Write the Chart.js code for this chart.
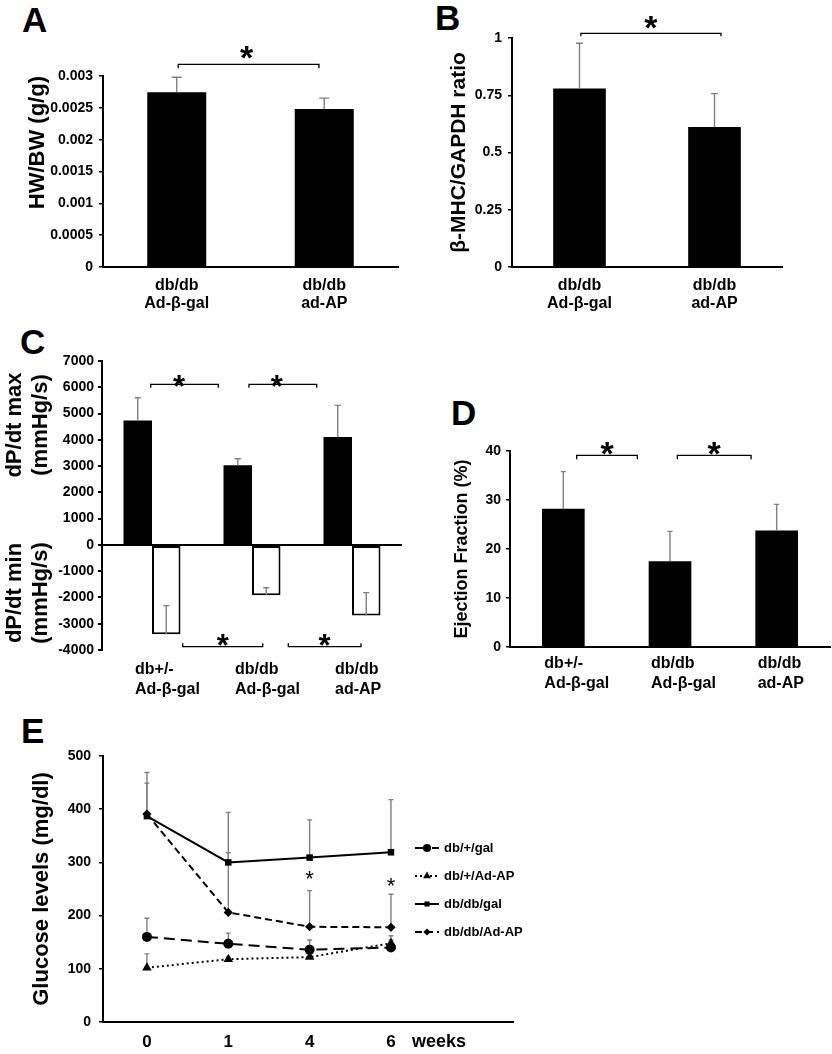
<!DOCTYPE html>
<html>
<head>
<meta charset="utf-8">
<title>Figura</title>
<script src="https://cdn.jsdelivr.net/npm/chart.js"></script>
<style>
  html, body { margin: 0; padding: 0; background: #fff; }
  body { position: relative; width: 832px; height: 1054px; overflow: hidden; font-family: 'Liberation Sans', Arial, sans-serif; }
  canvas { position: absolute; }
  .tag { position: absolute; font-size: 35px; font-weight: bold; line-height: 35px; color: #000; }
</style>
</head>
<body>
<div class="tag" style="left:22px;top:2px">A</div>
<div class="tag" style="left:435px;top:0px">B</div>
<div class="tag" style="left:20px;top:324px">C</div>
<div class="tag" style="left:451px;top:395px">D</div>
<div class="tag" style="left:21px;top:713px">E</div>

<canvas id="grafA" width="415" height="320" style="left:0;top:0"></canvas>
<canvas id="grafB" width="417" height="320" style="left:415px;top:0"></canvas>
<canvas id="grafC" width="420" height="400" style="left:0;top:310px"></canvas>
<canvas id="grafD" width="412" height="400" style="left:420px;top:310px"></canvas>
<canvas id="grafE" width="600" height="344" style="left:0;top:710px"></canvas>

<script>
const fam = "'Liberation Sans', Arial, sans-serif";

// A - HW/BW
const grupos2 = [["db/db", "Ad-β-gal"], ["db/db", "ad-AP"]];
const hwbw = [0.002744, 0.002482];
const hwbwSd = [0.000236, 0.00017];

// B - beta-MHC/GAPDH
const mhc = [0.78, 0.611];
const mhcSd = [0.197, 0.146];

// C - dP/dt max e min
const grupos3 = [["db+/-", "Ad-β-gal"], ["db/db", "Ad-β-gal"], ["db/db", "ad-AP"]];
const dpMax = [4740, 3030, 4110];
const dpMaxSd = [860, 250, 1200];
const dpMin = [-3400, -1920, -2690];
const dpMinSd = [1090, 290, 875];

// D - fracao de ejecao
const ef = [28.2, 17.5, 23.8];
const efSd = [7.6, 6.1, 5.3];

// E - glicose
const semanas = ["0", "1", "4", "6"];
const gluHetGal = [160, 147, 136, 140];
const gluHetGalSd = [35, 20, 18, 22];
const gluHetAP = [102, 118, 122, 148];
const gluHetAPSd = [26, 4, 4, 6];
const gluDbGal = [387, 300, 309, 319];
const gluDbGalSd = [82, 94, 71, 99];
const gluDbAP = [391, 206, 179, 178];
const gluDbAPSd = [58, 112, 68, 62];

Chart.defaults.font.family = fam;
Chart.defaults.font.weight = 'bold';
Chart.defaults.color = '#000';

function desenhaErros(chart, o) {
  const ctx = chart.ctx;
  const ys = chart.scales.y;
  ctx.save();
  ctx.strokeStyle = '#808080';
  ctx.lineWidth = 1.4;
  chart.data.datasets.forEach((ds, i) => {
    if (!ds.sd) return;
    chart.getDatasetMeta(i).data.forEach((el, j) => {
      const d = ds.data[j];
      const v = typeof d === 'object' ? d.y : d;
      const y0 = ys.getPixelForValue(v);
      const y1 = ys.getPixelForValue(v + ds.sd[j]);
      ctx.beginPath();
      ctx.moveTo(el.x, y0);
      ctx.lineTo(el.x, y1);
      ctx.moveTo(el.x - o.cap, y1);
      ctx.lineTo(el.x + o.cap, y1);
      ctx.stroke();
    });
  });
  ctx.restore();
}

const errBars = {
  id: 'errBars',
  beforeDatasetsDraw(chart, args, o) { if (o.behind) desenhaErros(chart, o); },
  afterDatasetsDraw(chart, args, o) { if (!o.behind) desenhaErros(chart, o); }
};

function asterisco(ctx, x, yc, size, weight) {
  ctx.font = weight + ' ' + size + 'px ' + fam;
  ctx.textAlign = 'center';
  ctx.textBaseline = 'alphabetic';
  ctx.fillText('*', x, yc + 0.575 * size);
}

// colchetes de significancia: [x0, x1, y, tick, distancia do *, desvio x do *]
const sigMarks = {
  id: 'sigMarks',
  afterDraw(chart, args, o) {
    const ctx = chart.ctx;
    const xs = chart.scales.x, ys = chart.scales.y;
    ctx.save();
    ctx.strokeStyle = '#000';
    ctx.fillStyle = '#000';
    ctx.lineWidth = 1.3;
    (o.brackets || []).forEach(b => {
      const x0 = xs.getPixelForValue(b[0]);
      const x1 = xs.getPixelForValue(b[1]);
      const y = ys.getPixelForValue(b[2]);
      ctx.beginPath();
      ctx.moveTo(x0, y + b[3]);
      ctx.lineTo(x0, y);
      ctx.lineTo(x1, y);
      ctx.lineTo(x1, y + b[3]);
      ctx.stroke();
      asterisco(ctx, (x0 + x1) / 2 + (b[5] || 0), y - b[4], o.size, 'bold');
    });
    (o.stars || []).forEach(s => {
      asterisco(ctx, xs.getPixelForValue(s[0]), ys.getPixelForValue(s[1]), o.size, o.weight || 'bold');
    });
    ctx.restore();
  }
};

// rotulos das categorias alinhados a esquerda (C e D)
const catText = {
  id: 'catText',
  afterDraw(chart, args, o) {
    if (!o.labels) return;
    const ctx = chart.ctx;
    const xs = chart.scales.x;
    const b = chart.chartArea.bottom;
    ctx.save();
    ctx.font = 'bold 16px ' + fam;
    ctx.fillStyle = '#000';
    ctx.textAlign = 'left';
    ctx.textBaseline = 'alphabetic';
    o.labels.forEach((linhas, i) => {
      linhas.forEach((t, k) => ctx.fillText(t, xs.getPixelForValue(i) + o.dx, b + o.base + k * o.lh));
    });
    ctx.restore();
  }
};

const textos = {
  id: 'textos',
  afterDraw(chart, args, o) {
    const ctx = chart.ctx;
    (o.items || []).forEach(t => {
      ctx.save();
      ctx.translate(t.x, t.y);
      ctx.rotate(-Math.PI / 2);
      ctx.font = 'bold ' + t.size + 'px ' + fam;
      ctx.fillStyle = '#000';
      ctx.textAlign = 'center';
      ctx.textBaseline = 'middle';
      ctx.fillText(t.text, 0, 0);
      ctx.restore();
    });
  }
};

const legendaE = {
  id: 'legendaE',
  afterDraw(chart, args, o) {
    const ctx = chart.ctx;
    ctx.save();
    chart.data.datasets.forEach((ds, i) => {
      const y = o.y + i * o.gap;
      ctx.strokeStyle = '#000';
      ctx.fillStyle = '#000';
      ctx.lineWidth = 2;
      ctx.setLineDash(ds.borderDash || []);
      ctx.beginPath();
      ctx.moveTo(o.x, y);
      ctx.lineTo(o.x + 24, y);
      ctx.stroke();
      ctx.setLineDash([]);
      Chart.helpers.drawPoint(ctx, { pointStyle: ds.pointStyle, radius: ds.pointRadius - 1, rotation: 0, borderWidth: 0 }, o.x + 12, y);
      ctx.font = 'bold 13px ' + fam;
      ctx.textAlign = 'left';
      ctx.textBaseline = 'middle';
      ctx.fillText(ds.label, o.x + 29, y);
    });
    // unidade do eixo x
    const xs = chart.scales.x;
    ctx.font = 'bold 18px ' + fam;
    ctx.textBaseline = 'alphabetic';
    ctx.fillText(o.unidade, xs.getPixelForValue(semanas.length - 1) + 21, chart.chartArea.bottom + 25);
    ctx.restore();
  }
};

function eixoY(min, max, step, largura, pad, titulo) {
  return {
    min: min,
    max: max,
    afterFit: s => { s.width = largura; },
    ticks: { stepSize: step, padding: pad, font: { size: 14, weight: 'bold' }, callback: v => String(+v.toFixed(4)) },
    grid: { drawOnChartArea: false, tickLength: 4, tickColor: '#000', lineWidth: 1.5 },
    border: { color: '#000', width: 2 },
    title: titulo || { display: false }
  };
}

function eixoX(altura, comRotulos, comLinha) {
  return {
    afterFit: s => { s.height = altura; },
    ticks: { display: comRotulos, padding: 9, maxRotation: 0, autoSkip: false, font: { size: 16, weight: 'bold', lineHeight: 1.15 } },
    grid: { display: false, drawTicks: false },
    border: { display: comLinha, color: '#000', width: 2 }
  };
}

const base = {
  responsive: false,
  animation: false,
  events: []
};

// A
new Chart(document.getElementById('grafA'), {
  type: 'bar',
  data: {
    labels: grupos2,
    datasets: [{ data: hwbw, sd: hwbwSd, backgroundColor: '#000', barPercentage: 0.4, categoryPercentage: 1 }]
  },
  options: Object.assign({}, base, {
    layout: { padding: { top: 76, right: 17, left: 0, bottom: 0 } },
    plugins: {
      legend: { display: false },
      tooltip: { enabled: false },
      errBars: { cap: 5 },
      sigMarks: { size: 34, brackets: [[0.01, 0.964, 0.003184, 4, 14.6, -2]] }
    },
    scales: {
      x: eixoX(53, true, true),
      y: eixoY(0, 0.003, 0.0005, 103, 6, { display: true, text: 'HW/BW (g/g)', align: 'end', font: { size: 22, weight: 'bold' }, padding: { top: 25 } })
    }
  }),
  plugins: [errBars, sigMarks]
});

// B
new Chart(document.getElementById('grafB'), {
  type: 'bar',
  data: {
    labels: grupos2,
    datasets: [{ data: mhc, sd: mhcSd, backgroundColor: '#000', barPercentage: 0.39, categoryPercentage: 1 }]
  },
  options: Object.assign({}, base, {
    layout: { padding: { top: 38, right: 50, left: 0, bottom: 0 } },
    plugins: {
      legend: { display: false },
      tooltip: { enabled: false },
      errBars: { cap: 3.5 },
      sigMarks: { size: 34, brackets: [[0.01, 1.048, 1.0205, 3, 14, 0]] }
    },
    scales: {
      x: eixoX(53, true, true),
      y: eixoY(0, 1, 0.25, 97, 6, { display: true, text: 'β-MHC/GAPDH ratio', font: { size: 21, weight: 'bold' }, padding: { top: 32 } })
    }
  }),
  plugins: [errBars, sigMarks]
});

// C
const yC = eixoY(-4000, 7000, 1000, 102, 4);
yC.ticks.callback = v => String(v);
yC.grid = {
  drawOnChartArea: true,
  color: c => (c.tick && c.tick.value === 0) ? '#000' : 'rgba(0,0,0,0)',
  lineWidth: 2,
  tickColor: '#000',
  tickLength: 4
};
new Chart(document.getElementById('grafC'), {
  type: 'bar',
  data: {
    labels: grupos3,
    datasets: [
      { data: dpMax, sd: dpMaxSd, backgroundColor: '#000', borderWidth: 0 },
      { data: dpMin, sd: dpMinSd, backgroundColor: '#fff', borderColor: '#000', borderWidth: 2, borderSkipped: false }
    ]
  },
  options: Object.assign({}, base, {
    datasets: { bar: { categoryPercentage: 0.57, barPercentage: 1 } },
    layout: { padding: { top: 51, right: 18, left: 0, bottom: 0 } },
    plugins: {
      legend: { display: false },
      tooltip: { enabled: false },
      errBars: { cap: 3 },
      sigMarks: {
        size: 31,
        brackets: [
          [-0.013, 0.663, 6113, 3.4, 5, -5.5],
          [0.97, 1.647, 6113, 3.4, 5, -6],
          [0.307, 1.107, -3874, -3.4, 9, 0],
          [1.363, 2.09, -3874, -3.4, 9, 0]
        ]
      },
      catText: { labels: grupos3, dx: -17, base: 24, lh: 20 },
      textos: {
        items: [
          { text: 'dP/dt max', x: 15, y: 115, size: 22 },
          { text: '(mmHg/s)', x: 41, y: 115, size: 22 },
          { text: 'dP/dt min', x: 15, y: 283, size: 22 },
          { text: '(mmHg/s)', x: 41, y: 283, size: 22 }
        ]
      }
    },
    scales: {
      x: eixoX(60, false, false),
      y: yC
    }
  }),
  plugins: [errBars, sigMarks, catText, textos]
});

// D
new Chart(document.getElementById('grafD'), {
  type: 'bar',
  data: {
    labels: grupos3,
    datasets: [{ data: ef, sd: efSd, backgroundColor: '#000', barPercentage: 0.4, categoryPercentage: 1 }]
  },
  options: Object.assign({}, base, {
    layout: { padding: { top: 141, right: 2, left: 0, bottom: 0 } },
    plugins: {
      legend: { display: false },
      tooltip: { enabled: false },
      errBars: { cap: 2.5 },
      sigMarks: { size: 34, brackets: [[0.125, 0.694, 39.12, 4, 9.6, 0], [1.069, 1.76, 39.12, 4, 9.6, 0]] },
      catText: { labels: grupos3, dx: -19, base: 21, lh: 20 }
    },
    scales: {
      x: eixoX(63, false, true),
      y: eixoY(0, 40, 10, 90, 5, { display: true, text: 'Ejection Fraction (%)', font: { size: 18, weight: 'bold' }, padding: { top: 31 } })
    }
  }),
  plugins: [errBars, sigMarks, catText]
});

// E
function pontos(arr) {
  return arr.map((v, i) => ({ x: i, y: v }));
}
function serie(rotulo, valores, sd, traco, estilo, raio) {
  return {
    label: rotulo,
    data: pontos(valores),
    sd: sd,
    borderDash: traco,
    pointStyle: estilo,
    pointRadius: raio,
    borderColor: '#000',
    backgroundColor: '#000',
    pointBackgroundColor: '#000',
    pointBorderColor: '#000',
    pointBorderWidth: 0,
    borderWidth: 2,
    tension: 0,
    fill: false
  };
}
new Chart(document.getElementById('grafE'), {
  type: 'line',
  data: {
    datasets: [
      serie('db/+/gal', gluHetGal, gluHetGalSd, [11, 6], 'circle', 5),
      serie('db/+/Ad-AP', gluHetAP, gluHetAPSd, [2, 3], 'triangle', 5.5),
      serie('db/db/gal', gluDbGal, gluDbGalSd, [], 'rect', 4.6),
      serie('db/db/Ad-AP', gluDbAP, gluDbAPSd, [7, 4], 'rectRot', 4.6)
    ]
  },
  options: Object.assign({}, base, {
    layout: { padding: { top: 46, right: 87, left: 0, bottom: 0 } },
    plugins: {
      colors: { enabled: false },
      legend: { display: false },
      tooltip: { enabled: false },
      errBars: { cap: 2.5, behind: true },
      sigMarks: { size: 22, weight: 'normal', stars: [[2, 280], [3, 267]] },
      legendaE: { x: 415, y: 138, gap: 28, unidade: 'weeks' }
    },
    scales: {
      x: {
        type: 'linear',
        min: -0.54,
        max: 4.5,
        afterBuildTicks: s => { s.ticks = semanas.map((_, i) => ({ value: i })); },
        afterFit: s => { s.height = 32; },
        ticks: { callback: v => semanas[v], padding: 10, maxRotation: 0, autoSkip: false, font: { size: 17, weight: 'bold' } },
        grid: { display: false, drawTicks: false },
        border: { color: '#000', width: 2 }
      },
      y: eixoY(0, 500, 100, 103, 8, { display: true, text: 'Glucose levels (mg/dl)', font: { size: 22, weight: 'bold' }, padding: { top: 29 } })
    }
  }),
  plugins: [errBars, sigMarks, legendaE]
});
</script>
</body>
</html>
